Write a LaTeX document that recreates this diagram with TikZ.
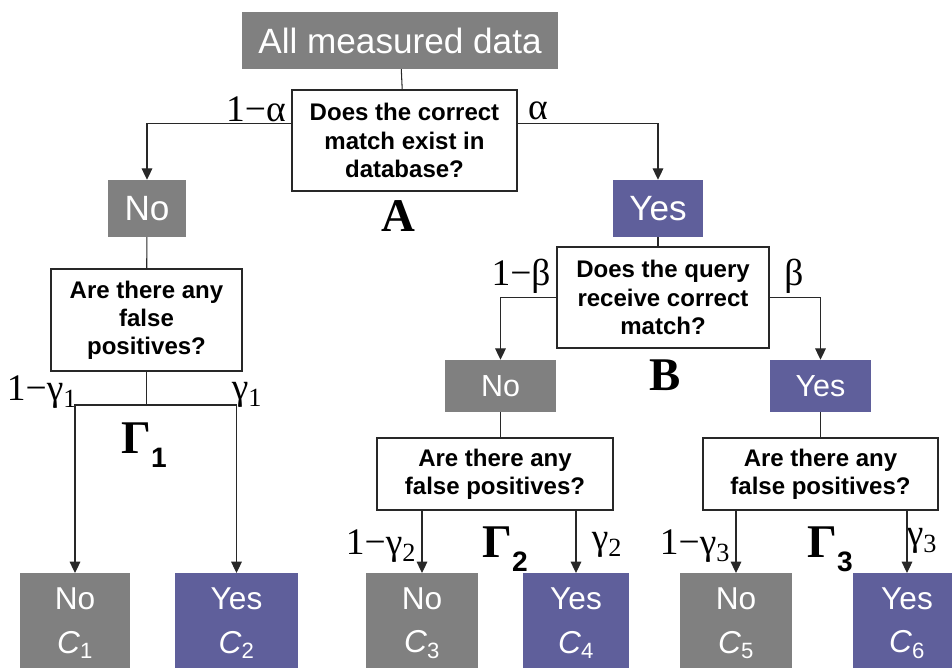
\documentclass[tikz,border=0pt]{standalone}
\usepackage{fontspec}
\setmainfont{Liberation Serif}
\setsansfont{Liberation Sans}
\usetikzlibrary{arrows.meta, positioning}
\definecolor{nogray}{RGB}{128,128,128}
\definecolor{yespurple}{RGB}{95,95,155}
\definecolor{linegray}{RGB}{40,40,40}
\newcommand{\gsub}[1]{\raisebox{-12pt}{\fontsize{24}{24}\selectfont\sffamily\bfseries #1}}

\begin{document}
\begin{tikzpicture}[
  x=0.3mm, y=-0.3mm,
  ques/.style={draw=linegray, line width=0.9pt, fill=white, align=center, inner sep=2pt, font=\fontsize{20.5}{24}\selectfont\sffamily\bfseries},
  nobox/.style={fill=nogray, text=white, inner sep=0pt, font=\fontsize{30}{34}\selectfont\sffamily},
  yesbox/.style={nobox, fill=yespurple},
  leaf/.style={anchor=north, minimum height=30mm, align=center, font=\fontsize{27}{37}\selectfont\sffamily},
  lbl/.style={inner sep=0pt, font=\fontsize{32}{36}\selectfont},
  big/.style={inner sep=0pt, font=\fontsize{40}{40}\selectfont\bfseries},
  arr/.style={-{Triangle[length=3.4mm, width=3.2mm]}, line width=0.9pt, draw=linegray},
  ln/.style={line width=0.9pt, draw=linegray},
]
\useasboundingbox (0,0) rectangle (952,667);
\clip (0,0) rectangle (952,667);

% first level
\node[nobox, minimum width=94.8mm, minimum height=17.1mm, font=\fontsize{30}{36}\selectfont\sffamily] (all) at (400,40.5) {All measured data};
\node[ques, minimum width=67.5mm, minimum height=30.3mm] (qa) at (404.5,140.5) {Does the correct\\match exist in\\database?};
\node[nobox, minimum width=23.4mm, minimum height=17.1mm] (noA) at (147,208.5) {No};
\node[yesbox, minimum width=27mm, minimum height=17.1mm] (yesA) at (658,208.5) {Yes};

% second level
\node[ques, minimum width=57.3mm, minimum height=30.6mm] (qg1) at (146.5,320) {Are there any\\false\\positives?};
\node[ques, minimum width=63.6mm, minimum height=30.3mm] (qb) at (663,297.5) {Does the query\\receive correct\\match?};
\node[nobox, minimum width=33.3mm, minimum height=15.6mm, font=\fontsize{26}{30}\selectfont\sffamily] (noB) at (500.5,386) {No};
\node[yesbox, minimum width=30.3mm, minimum height=15.6mm, font=\fontsize{26}{30}\selectfont\sffamily] (yesB) at (820.5,386) {Yes};
\node[ques, minimum width=70.8mm, minimum height=21.6mm] (qg2) at (495,474) {Are there any\\false positives?};
\node[ques, minimum width=70.5mm, minimum height=21.6mm] (qg3) at (820.5,474) {Are there any\\false positives?};

% outcomes
\node[nobox, leaf, minimum width=33mm] (c1) at (75,573) {No\\\textit{C}\textsubscript{1}};
\node[yesbox, leaf, minimum width=36.9mm] (c2) at (236.5,573) {Yes\\\textit{C}\textsubscript{2}};
\node[nobox, leaf, minimum width=33.6mm] (c3) at (422,573) {No\\\textit{C}\textsubscript{3}};
\node[yesbox, leaf, minimum width=31.8mm] (c4) at (576,573) {Yes\\\textit{C}\textsubscript{4}};
\node[nobox, leaf, minimum width=33.6mm] (c5) at (736,573) {No\\\textit{C}\textsubscript{5}};
\node[yesbox, leaf, minimum width=32.4mm] (c6) at (907,573) {Yes\\\textit{C}\textsubscript{6}};

% probabilities
\node[lbl] (la) at (256,109) {1−α};
\node[lbl] (ra) at (538,111) {α};
\node[big] (lA) at (398,216) {A};
\node[lbl] (lg1) at (42,392) {1−γ\textsubscript{1}};
\node[lbl] (rg1) at (247,395) {γ\textsubscript{1}};
\node[big] (G1) at (144,445) {Γ\gsub{1}};
\node[lbl] (lb) at (521,276) {1−β};
\node[lbl] (rb) at (794,276) {β};
\node[big] (lB) at (665,375) {B};
\node[lbl] (lg2) at (381,546) {1−γ\textsubscript{2}};
\node[lbl] (rg2) at (607,545) {γ\textsubscript{2}};
\node[big] (G2) at (505,549) {Γ\gsub{2}};
\node[lbl] (lg3) at (695,546) {1−γ\textsubscript{3}};
\node[big] (G3) at (830,549) {Γ\gsub{3}};
\node[lbl] (rg3) at (922,541) {γ\textsubscript{3}};

\draw[ln] (all) -- (qa);
\draw[arr] ([yshift=5mm]qa.west) -| (noA);
\draw[arr] ([yshift=5mm]qa.east) -| (yesA);
\draw[ln] (noA) -- (qg1);
\coordinate (s1) at (qg1.south |- 0,405);
\draw[ln] (qg1.south) -- (s1);
\draw[arr] (s1) -| (c1);
\draw[arr] (s1) -| (c2);
\draw[ln] (yesA.south) -- (yesA.south |- qb.north);
\draw[arr] (qb.west) -| (noB);
\draw[arr] (qb.east) -| (yesB);
\draw[ln] (noB.south) -- (noB.south |- qg2.north);
\draw[ln] (yesB) -- (qg3);
\draw[arr] (qg2.south -| c3) -- (c3);
\draw[arr] (qg2.south -| c4) -- (c4);
\draw[arr] (qg3.south -| c5) -- (c5);
\draw[arr] (qg3.south -| c6) -- (c6);
\end{tikzpicture}
\end{document}
